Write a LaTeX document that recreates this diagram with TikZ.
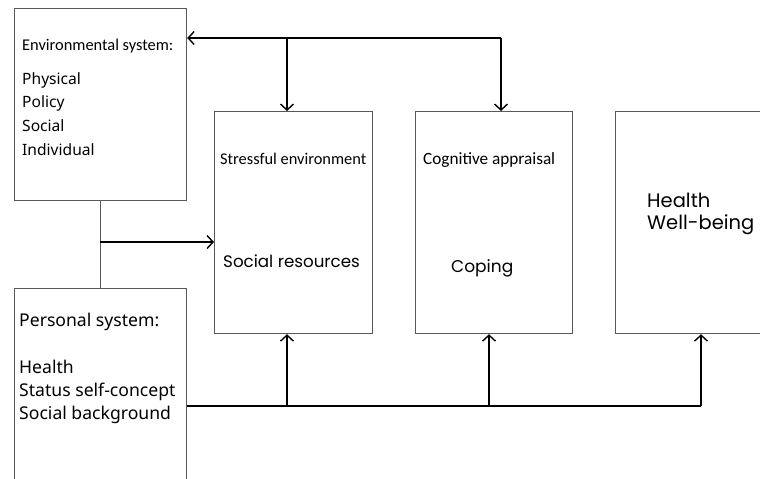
\documentclass[tikz,border=0pt]{standalone}
\usepackage{fontspec}
\setmainfont{Noto Sans}
\newfontfamily\headfont{Carlito}
\newfontfamily\roundfont{Poppins}
\usetikzlibrary{arrows.meta}

\begin{document}
\begin{tikzpicture}[x=1pt,y=-1pt,
 box/.style={draw=black!65,line width=1.2pt,minimum width=#1,inner sep=0pt,anchor=north west},
 lbl/.style={anchor=base west,inner sep=0pt},
 arr/.style={line width=1.6pt,-{Straight Barb[length=6pt,width=13pt,line width=1.4pt]}}]

\useasboundingbox (0,0) rectangle (760,479);

% boxes
\def\top {111}
\node[box=172pt,minimum height=192pt] (env) at (14,8) {};
\node[box=172pt,minimum height=200pt] (pers) at (14,288) {};
\node[box=158pt,minimum height=222pt] (stress) at (214,\top) {};
\node[box=157pt,minimum height=222pt] (cog) at (415,\top) {};
\node[box=160pt,minimum height=222pt] (health) at (615,\top) {};

% texts
\node[lbl,font=\headfont\fontsize{16.4}{18}\selectfont] (envhead) at (22,50) {Environmental system:};
\foreach \t/\y/\n in {Physical/84/a,Policy/107/b,Social/131/c,Individual/155/d}
 \node[lbl,font=\fontsize{15.6}{18}\selectfont] (env\n) at (22,\y) {\t};
\node[lbl,font=\fontsize{17.6}{20}\selectfont] (pershead) at (19,326) {Personal system:};
\foreach \t/\y/\n in {Health/373/a,Status self-concept/396/b,Social background/419/c}
 \node[lbl,font=\fontsize{17.6}{20}\selectfont] (pers\n) at (19,\y) {\t};
\node[lbl,font=\headfont\fontsize{16.4}{18}\selectfont] (stresshead) at (220,164) {Stressful environment};
\node[lbl,font=\roundfont\fontsize{16.7}{19}\selectfont] (res) at (223,267) {Social resources};
\node[lbl,font=\headfont\fontsize{17.2}{19}\selectfont] (coghead) at (423,164) {Cognitive appraisal};
\node[lbl,font=\roundfont\fontsize{17}{19}\selectfont] (coping) at (451,272) {Coping};
\node[lbl,font=\roundfont\fontsize{19.5}{22}\selectfont] (outa) at (647,207) {Health};
\node[lbl,font=\roundfont\fontsize{19.5}{22}\selectfont] (outb) at (647,229) {Well-being};

% connectors
\coordinate (topM) at (287,38);
\coordinate (topR) at (501,38);
\draw[arr] (topR) -- (env.east |- topR);
\draw[arr] (topR) -- (topR |- cog.north);
\draw[arr] (topM) -- (topM |- stress.north);

\coordinate (midL) at (100,242);
\draw[line width=1pt,black!65] (env.south -| midL) -- (pers.north -| midL);
\draw[arr] (midL) -- (stress.west |- midL);

\coordinate (botL) at (287,406);
\coordinate (botM) at (489,406);
\coordinate (botR) at (701,406);
\draw[line width=1.6pt] (pers.east |- botL) -- (botR);
\foreach \c/\b in {botL/stress,botM/cog,botR/health}
 \draw[arr] (\c) -- (\c |- \b.south);

\end{tikzpicture}
\end{document}
